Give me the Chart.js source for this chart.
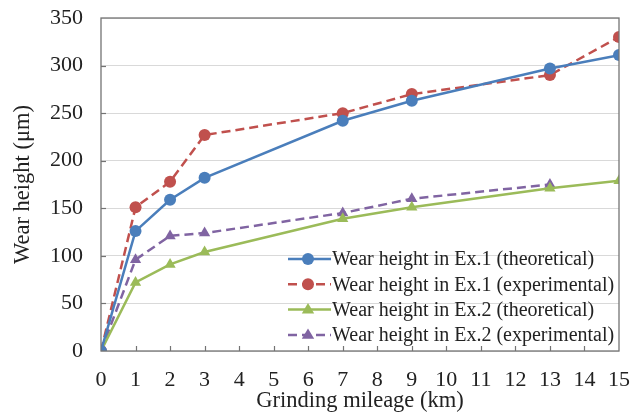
<!DOCTYPE html>
<html>
<head>
<meta charset="utf-8">
<script src="https://cdn.jsdelivr.net/npm/chart.js@4"></script>
<style>
    html, body { margin: 0; padding: 0; background: #fff; }
    #wrap { width: 642px; height: 415px; }
</style>
</head>
<body>
<div id="wrap"><canvas id="wear-chart"></canvas></div>
<script>
const mileage = [0, 1, 2, 3, 7, 9, 13, 15];
const ex1theoretical = [0, 126, 159, 182, 242, 263, 297, 311];
const ex1experimental = [0, 151, 178, 227, 250, 270, 290, 330];
const ex2theoretical = [0, 72, 91, 104, 139, 151, 171, 179];
const ex2experimental = [0, 96, 121, 124, 145, 160, 175];

const labels = [
    "Wear height in Ex.1 (theoretical)",
    "Wear height in Ex.1 (experimental)",
    "Wear height in Ex.2 (theoretical)",
    "Wear height in Ex.2 (experimental)",
];

const serif = "'Liberation Serif', 'Times New Roman', serif";
const axiscolor = "#737373";

const topoints = (values) => values.map((v, i) => ({ x: mileage[i], y: v }));

function series(label, values, color, shape, dashed) {
    return {
        label: label,
        data: topoints(values),
        borderColor: color,
        backgroundColor: color,
        borderWidth: 2.5,
        borderDash: dashed ? [9, 5] : [],
        pointStyle: shape,
        pointRadius: shape === "triangle" ? 6.5 : 6,
        pointBorderWidth: 0,
        tension: 0,
    };
}

// inner ticks, box frame and the in-plot legend
const frameplugin = {
    id: "frame",
    afterDraw(chart) {
        const c = chart.ctx;
        const a = chart.chartArea;
        const xs = chart.scales.x;
        const ys = chart.scales.y;

        c.save();
        c.strokeStyle = axiscolor;
        c.lineWidth = 1.3;
        c.strokeRect(a.left, a.top, a.right - a.left, a.bottom - a.top);

        c.lineWidth = 1.2;
        for (let v = 1; v < 15; v++) {
            const px = Math.round(xs.getPixelForValue(v)) + 0.5;
            c.beginPath();
            c.moveTo(px, a.bottom);
            c.lineTo(px, a.bottom - 5);
            c.stroke();
        }
        for (let v = 50; v < 350; v += 50) {
            const py = Math.round(ys.getPixelForValue(v)) + 0.5;
            c.beginPath();
            c.moveTo(a.left, py);
            c.lineTo(a.left + 5, py);
            c.stroke();
        }

        c.font = "20px " + serif;
        c.textBaseline = "middle";
        chart.data.datasets.forEach((ds, i) => {
            const y = 259 + i * 25.3;
            c.strokeStyle = ds.borderColor;
            c.lineWidth = ds.borderWidth;
            c.setLineDash(ds.borderDash);
            c.beginPath();
            c.moveTo(288, y);
            c.lineTo(331, y);
            c.stroke();
            c.setLineDash([]);
            c.fillStyle = ds.backgroundColor;
            if (ds.pointStyle === "triangle") {
                const r = ds.pointRadius;
                c.beginPath();
                c.moveTo(308, y - r);
                c.lineTo(308 + r * 0.95, y + r * 0.6);
                c.lineTo(308 - r * 0.95, y + r * 0.6);
                c.closePath();
                c.fill();
            } else {
                c.beginPath();
                c.arc(308, y, ds.pointRadius, 0, Math.PI * 2);
                c.fill();
            }
            c.fillStyle = "#222";
            c.fillText(ds.label, 332, y + 1);
        });
        c.restore();
    },
};

Chart.defaults.font.family = serif;
Chart.defaults.color = "#222";

const ctx = document.getElementById("wear-chart").getContext("2d");

new Chart(ctx, {
    type: "line",
    data: {
        datasets: [
            series(labels[0], ex1theoretical, "#4a7ebb", "circle", false),
            series(labels[1], ex1experimental, "#c0504d", "circle", true),
            series(labels[2], ex2theoretical, "#9bbb59", "triangle", false),
            series(labels[3], ex2experimental, "#8064a2", "triangle", true),
        ],
    },
    options: {
        responsive: true,
        maintainAspectRatio: false,
        animation: false,
        devicePixelRatio: 1,
        layout: { padding: { top: 18, right: 23, left: 0, bottom: 0 } },
        plugins: {
            legend: { display: false },
            tooltip: { enabled: false },
        },
        scales: {
            x: {
                type: "linear",
                min: 0,
                max: 15,
                afterFit: (s) => {
                    s.height = 64;
                    s.paddingLeft = 0;
                    s.paddingRight = 0;
                },
                ticks: { stepSize: 1, font: { size: 22 }, padding: 8, maxRotation: 0 },
                grid: { display: false },
                border: { display: false },
                title: { display: true, text: "Grinding mileage (km)", font: { size: 22.5 }, padding: { top: 0, bottom: 0 } },
            },
            y: {
                min: 0,
                max: 350,
                afterFit: (s) => {
                    s.width = 101;
                    s.paddingTop = 0;
                    s.paddingBottom = 0;
                },
                ticks: { stepSize: 50, font: { size: 22 }, padding: 18 },
                grid: { color: "#d9d9d9", lineWidth: 1, drawTicks: false },
                border: { display: false },
                title: { display: true, text: "Wear height (μm)", font: { size: 22.5 }, padding: { top: 10, bottom: 2 } },
            },
        },
    },
    plugins: [frameplugin],
});
</script>
</body>
</html>
